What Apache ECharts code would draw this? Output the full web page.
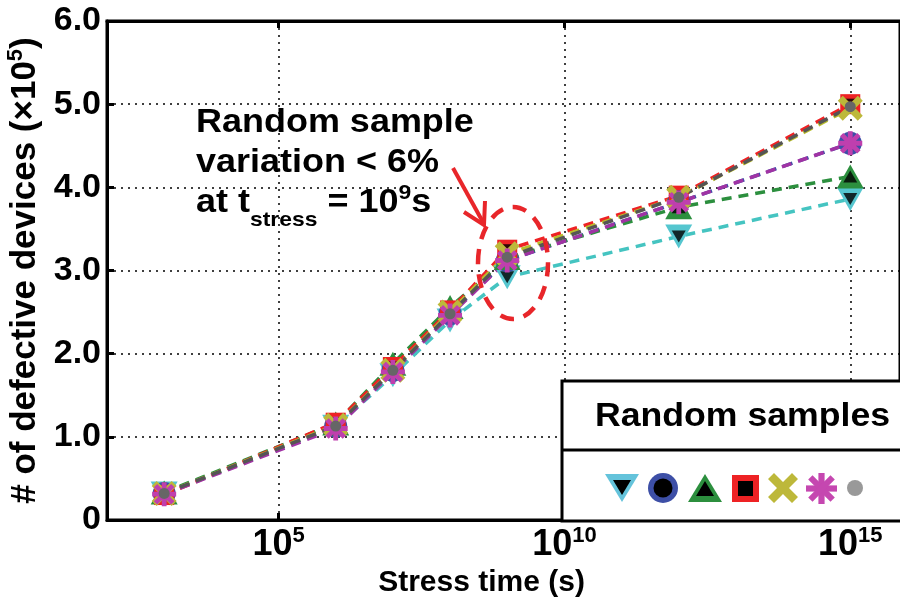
<!DOCTYPE html>
<html><head><meta charset="utf-8">
<script src="https://cdn.jsdelivr.net/npm/echarts@6/dist/echarts.min.js"></script>
<style>html,body{margin:0;padding:0;background:#fff}#c{width:900px;height:603px}</style>
</head><body><div id="c"></div>
<script>
// log10 of stress time (s)
const xLog = [3, 6, 7, 8, 9, 12, 15];
const xTickExp = [5, 10, 15];
const yTicks = [0, 1, 2, 3, 4, 5, 6];
// # of defective devices (x1e5) per random sample
const sCyan    = [0.32, 1.12, 1.74, 2.40, 2.92, 3.41, 3.86];
const sBlue    = [0.32, 1.13, 1.80, 2.48, 3.12, 3.82, 4.53];
const sGreen   = [0.33, 1.16, 1.88, 2.56, 3.15, 3.76, 4.13];
const sRed     = [0.30, 1.17, 1.84, 2.52, 3.25, 3.90, 5.00];
const sYellow  = [0.32, 1.14, 1.80, 2.50, 3.20, 3.88, 4.95];
const sMagenta = [0.31, 1.10, 1.78, 2.46, 3.12, 3.82, 4.53];
const sGray    = [0.32, 1.13, 1.80, 2.48, 3.16, 3.88, 4.97];

const FF = '"Liberation Sans", Arial, Helvetica, sans-serif';
const XPTS = [[2,0],[5,3],[8,0],[10,2],[7,5],[10,8],[8,10],[5,7],[2,10],[0,8],[3,5],[0,2]];
const AST = [
  [[4,0],[6,0],[6,10],[4,10]],
  [[0,4],[10,4],[10,6],[0,6]],
  [[0.7,2.1],[2.1,0.7],[9.3,7.9],[7.9,9.3]],
  [[7.9,0.7],[9.3,2.1],[2.1,9.3],[0.7,7.9]]
];
const toPath = polys => 'path://' + polys.map(p => 'M' + p.map(q => q[0] + ',' + q[1]).join(' L') + ' Z').join(' ');
const XPATH = toPath([XPTS]);
const ASTPATH = toPath(AST);

const pts = v => xLog.map((x, i) => [x, v[i]]);
function line(name, vals, mColor, lColor, symbol, size, rot) {
  return { type: 'line', name, data: pts(vals), symbol, symbolSize: size, symbolRotate: rot || 0,
    showSymbol: true, lineStyle: { color: lColor, width: 3.5, type: [10, 7] },
    itemStyle: { color: mColor }, z: 3, animation: false };
}
function inner(vals, symbol, size, rot) {
  return { type: 'scatter', data: pts(vals), symbol, symbolSize: size, symbolRotate: rot || 0,
    itemStyle: { color: '#000' }, z: 3, animation: false };
}

const series = [
  line('cyan', sCyan, '#55c6cf', '#45c4c1', 'triangle', [27, 24], 180), inner(sCyan, 'triangle', [14, 12], 180),
  line('blue', sBlue, '#3d4fa6', '#3d4fa6', 'circle', 23), inner(sBlue, 'circle', 13),
  line('green', sGreen, '#2c8f3e', '#2c8f3e', 'triangle', [27, 24]), inner(sGreen, 'triangle', [14, 12]),
  line('red', sRed, '#ee2224', '#ee2224', 'rect', 20), inner(sRed, 'rect', 11),
  line('yellow', sYellow, '#bdb83a', '#b8bd2c', XPATH, 25),
  line('magenta', sMagenta, '#bf3fae', '#a033a4', ASTPATH, 24),
  line('gray', sGray, '#666', '#555', 'circle', 11)
];

const chart = echarts.init(document.getElementById('c'), null, { renderer: 'canvas' });
const sup = { fontSize: 22, fontWeight: 'bold', fontFamily: FF, color: '#000', verticalAlign: 'top', lineHeight: 38 };

const lx = 562, ly = 381;
const poly = (points, ox, oy, s, fill, z) => ({ type: 'polygon', z, shape: { points: points.map(p => [ox + p[0] * s, oy + p[1] * s]) }, style: { fill } });

chart.setOption({
  animation: false,
  grid: { left: 107, top: 21, right: 0, bottom: 83, show: true, borderColor: '#000', borderWidth: 3,
    containLabel: false, outerBoundsMode: 'none' },
  xAxis: [{
    type: 'value', min: 2, max: 15.87, position: 'bottom',
    axisLine: { lineStyle: { color: '#000', width: 3 } },
    axisTick: { inside: true, length: 7, lineStyle: { color: '#000', width: 3 }, customValues: xTickExp },
    axisLabel: { customValues: xTickExp, margin: 5, formatter: v => '{b|10}{s|' + v + '}',
      rich: { b: { fontSize: 36, fontWeight: 'bold', fontFamily: FF, color: '#000', lineHeight: 38, verticalAlign: 'bottom' }, s: sup } },
    splitLine: { show: true, lineStyle: { color: '#000', width: 1.5, type: [2, 5] } },
    name: 'Stress time (s)', nameLocation: 'middle', nameGap: 48,
    nameTextStyle: { fontSize: 30, fontWeight: 'bold', fontFamily: FF, color: '#000', padding: [0, 44, 0, 0] }
  }, {
    type: 'value', min: 2, max: 15.87, position: 'top',
    axisLine: { lineStyle: { color: '#000', width: 3 } },
    axisTick: { inside: true, length: 7, lineStyle: { color: '#000', width: 3 }, customValues: xTickExp },
    axisLabel: { show: false }, splitLine: { show: false }
  }],
  yAxis: {
    type: 'value', min: 0, max: 6, interval: 1,
    axisLine: { show: true, lineStyle: { color: '#000', width: 3 } },
    axisTick: { show: true, inside: true, length: 7, lineStyle: { color: '#000', width: 3 } },
    axisLabel: { fontSize: 34, fontWeight: 'bold', fontFamily: FF, color: '#000', margin: 6,
      formatter: v => v === 0 ? '0' : v.toFixed(1) },
    splitLine: { show: true, lineStyle: { color: '#000', width: 1.5, type: [2, 5] } },
    name: '{a|# of defective devices (×10}{s|5}{a|)}', nameLocation: 'middle', nameRotate: 90, nameGap: 60,
    nameTextStyle: { rich: { a: { fontSize: 35, fontWeight: 'bold', fontFamily: FF, color: '#000', lineHeight: 38, verticalAlign: 'bottom' }, s: sup } }
  },
  series,
  graphic: [
    { type: 'text', x: 196, y: 103, scaleX: 1.09, z: 50,
      style: { text: 'Random sample\nvariation < 6%\nat t{sub|stress} = 10{sup|9}s', fill: '#000',
        font: 'bold 33px ' + FF, lineHeight: 40,
        rich: { sub: { fontSize: 21, fontWeight: 'bold', fontFamily: FF, verticalAlign: 'bottom', lineHeight: 40, padding: [0, 0, -8, 0] },
                sup: { fontSize: 21, fontWeight: 'bold', fontFamily: FF, verticalAlign: 'top', lineHeight: 40 } } } },
    { type: 'line', z: 50, shape: { x1: 453, y1: 168, x2: 484, y2: 224 }, style: { stroke: '#e8262a', lineWidth: 4 } },
    { type: 'polyline', z: 50, shape: { points: [[464, 212], [484, 225], [485, 201]] }, style: { stroke: '#e8262a', lineWidth: 4, fill: null } },
    { type: 'ellipse', z: 50, shape: { cx: 513, cy: 263, rx: 35, ry: 56 }, style: { stroke: '#e8262a', lineWidth: 4.5, fill: null, lineDash: [14, 10] } },
    { type: 'rect', z: 100, shape: { x: lx, y: ly, width: 360, height: 140 }, style: { fill: '#fff', stroke: '#000', lineWidth: 3 } },
    { type: 'line', z: 101, shape: { x1: lx, y1: 450, x2: 905, y2: 450 }, style: { stroke: '#000', lineWidth: 3 } },
    { type: 'text', z: 101, x: 595, y: 400, scaleX: 1.08, style: { text: 'Random samples', font: 'bold 33px ' + FF, fill: '#000' } },
    { type: 'polygon', z: 101, shape: { points: [[605, 474], [639, 474], [622, 502]] }, style: { fill: '#64c3db' } },
    { type: 'polygon', z: 102, shape: { points: [[613, 480], [631, 480], [622, 495]] }, style: { fill: '#000' } },
    { type: 'circle', z: 101, shape: { cx: 663, cy: 488, r: 15 }, style: { fill: '#3d4fa6' } },
    { type: 'circle', z: 102, shape: { cx: 663, cy: 488, r: 9.5 }, style: { fill: '#000' } },
    { type: 'polygon', z: 101, shape: { points: [[688, 502], [722, 502], [705, 474]] }, style: { fill: '#2c8f3e' } },
    { type: 'polygon', z: 102, shape: { points: [[696, 496], [714, 496], [705, 481]] }, style: { fill: '#000' } },
    { type: 'rect', z: 101, shape: { x: 732, y: 475, width: 27, height: 27 }, style: { fill: '#ee2224' } },
    { type: 'rect', z: 102, shape: { x: 738, y: 481, width: 15, height: 15 }, style: { fill: '#000' } },
    poly(XPTS, 768, 473, 3.0, '#bdb83a', 101),
    ...AST.map(p => poly(p, 806, 473, 3.1, '#c547b0', 101)),
    { type: 'circle', z: 101, shape: { cx: 855, cy: 488, r: 8 }, style: { fill: '#999' } }
  ]
});
</script></body></html>
